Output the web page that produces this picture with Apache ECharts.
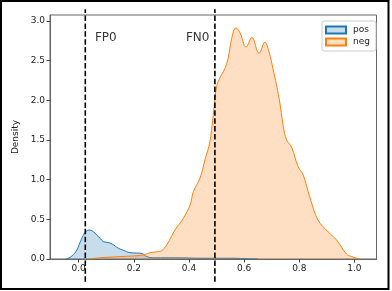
<!DOCTYPE html>
<html><head><meta charset="utf-8">
<script src="https://cdn.jsdelivr.net/npm/echarts@6/dist/echarts.min.js"></script>
<style>html,body{margin:0;padding:0;background:#fff}#c{width:392px;height:291px}</style>
</head><body><div id="c"></div>
<script>
// KDE curve samples: [score, density]
const posCurve = [
  [-0.046,0],[-0.037,0.01],[-0.024,0.04],[-0.007,0.11],[0.005,0.21],[0.017,0.30],[0.027,0.35],
  [0.038,0.365],[0.053,0.345],[0.066,0.30],[0.078,0.26],[0.089,0.22],[0.103,0.21],[0.121,0.19],
  [0.144,0.135],[0.162,0.11],[0.186,0.08],[0.21,0.075],[0.229,0.07],[0.247,0.03],[0.277,0.015],
  [0.35,0.015],[0.45,0.01],[0.55,0.01],[0.6,0.005],[0.65,0]
];
const negCurve = [
  [0.04,0],[0.078,0.016],[0.15,0.03],[0.234,0.05],[0.259,0.08],[0.283,0.09],[0.301,0.105],
  [0.319,0.176],[0.349,0.365],[0.367,0.45],[0.379,0.51],[0.404,0.68],[0.416,0.85],[0.44,1.02],
  [0.458,1.25],[0.476,1.48],[0.486,1.75],[0.50,2.17],[0.512,2.28],[0.530,2.40],[0.542,2.53],
  [0.555,2.78],[0.570,2.91],[0.585,2.85],[0.607,2.67],[0.628,2.79],[0.654,2.59],[0.675,2.73],
  [0.69,2.61],[0.705,2.39],[0.727,2.02],[0.742,1.67],[0.754,1.50],[0.772,1.41],[0.796,1.16],
  [0.814,1.06],[0.838,0.78],[0.868,0.49],[0.905,0.34],[0.935,0.24],[0.971,0.063],[0.99,0.03],
  [1.008,0.01],[1.02,0]
];
const seriesNames = ['pos','neg'];
const thresholds = [0.024, 0.494];          // FP0, FN0 vertical lines
const thresholdLabels = [[0.059,2.78,'FP0'],[0.389,2.78,'FN0']];
const xTicks = [0.0,0.2,0.4,0.6,0.8,1.0];
const yTicks = [0.0,0.5,1.0,1.5,2.0,2.5,3.0];
const xRange = [-0.104, 1.08];
const yRange = [0, 3.073];
const lineSpan = [-0.286, 3.145];

const colors = ['#1f77b4','#ff7f0e'];
const chart = echarts.init(document.getElementById('c'), null, {renderer:'canvas'});
const axisLine = {show:true, onZero:false, lineStyle:{color:'#666', width:1}};
const series = [
  {name:seriesNames[0], type:'line', data:posCurve, smooth:0.4, symbol:'none', z:2,
   lineStyle:{color:colors[0], width:1}, itemStyle:{color:'#c7ddec', borderColor:colors[0], borderWidth:1},
   areaStyle:{color:colors[0], opacity:0.25}},
  {name:seriesNames[1], type:'line', data:negCurve, smooth:0.4, symbol:'none', z:3,
   lineStyle:{color:colors[1], width:1}, itemStyle:{color:'#ffdfc3', borderColor:colors[1], borderWidth:1},
   areaStyle:{color:colors[1], opacity:0.25}}
];
thresholds.forEach(t => series.push({
  type:'line', data:[[t,lineSpan[0]],[t,lineSpan[1]]], clip:false, symbol:'none', z:5, silent:true,
  lineStyle:{color:'#000', width:1.6, type:[5.5,2.4]}
}));
series.push({type:'scatter', data:thresholdLabels, symbolSize:0, z:6, silent:true,
  label:{show:true, position:'right', distance:0, formatter:p=>p.data[2],
    fontFamily:'DejaVu Sans', fontSize:12, color:'#000'}});

chart.setOption({
  animation:false,
  grid:{left:50, right:15.5, top:15, bottom:32, show:true, borderColor:'#666', borderWidth:1},
  legend:{data:seriesNames, orient:'vertical', left:322, top:21, padding:[3,6,3,3], itemGap:0,
    itemWidth:20, itemHeight:7, icon:'rect', backgroundColor:'#fff', borderColor:'#ccc', borderWidth:1, borderRadius:2,
    textStyle:{fontFamily:'DejaVu Sans', fontSize:9, color:'#222', lineHeight:12, padding:[0,0,0,2]}},
  xAxis:{type:'value', min:xRange[0], max:xRange[1], splitLine:{show:false}, axisLine:axisLine,
    axisTick:{show:true, length:3.5, customValues:xTicks, lineStyle:{color:'#444'}},
    axisLabel:{customValues:xTicks, formatter:v=>v.toFixed(1), fontFamily:'DejaVu Sans', fontSize:9, color:'#222', margin:5}},
  yAxis:{type:'value', min:yRange[0], max:yRange[1], splitLine:{show:false}, axisLine:axisLine,
    name:'Density', nameLocation:'middle', nameGap:30, nameRotate:90,
    nameTextStyle:{fontFamily:'DejaVu Sans', fontSize:9, color:'#222'},
    axisTick:{show:true, length:3.5, customValues:yTicks, lineStyle:{color:'#444'}},
    axisLabel:{customValues:yTicks, formatter:v=>v.toFixed(1), fontFamily:'DejaVu Sans', fontSize:9, color:'#222', margin:5}},
  series:series,
  graphic:[{type:'rect', shape:{x:1, y:1, width:387.5, height:288}, style:{fill:null, stroke:'#000', lineWidth:2}, z:100}]
});
</script></body></html>
